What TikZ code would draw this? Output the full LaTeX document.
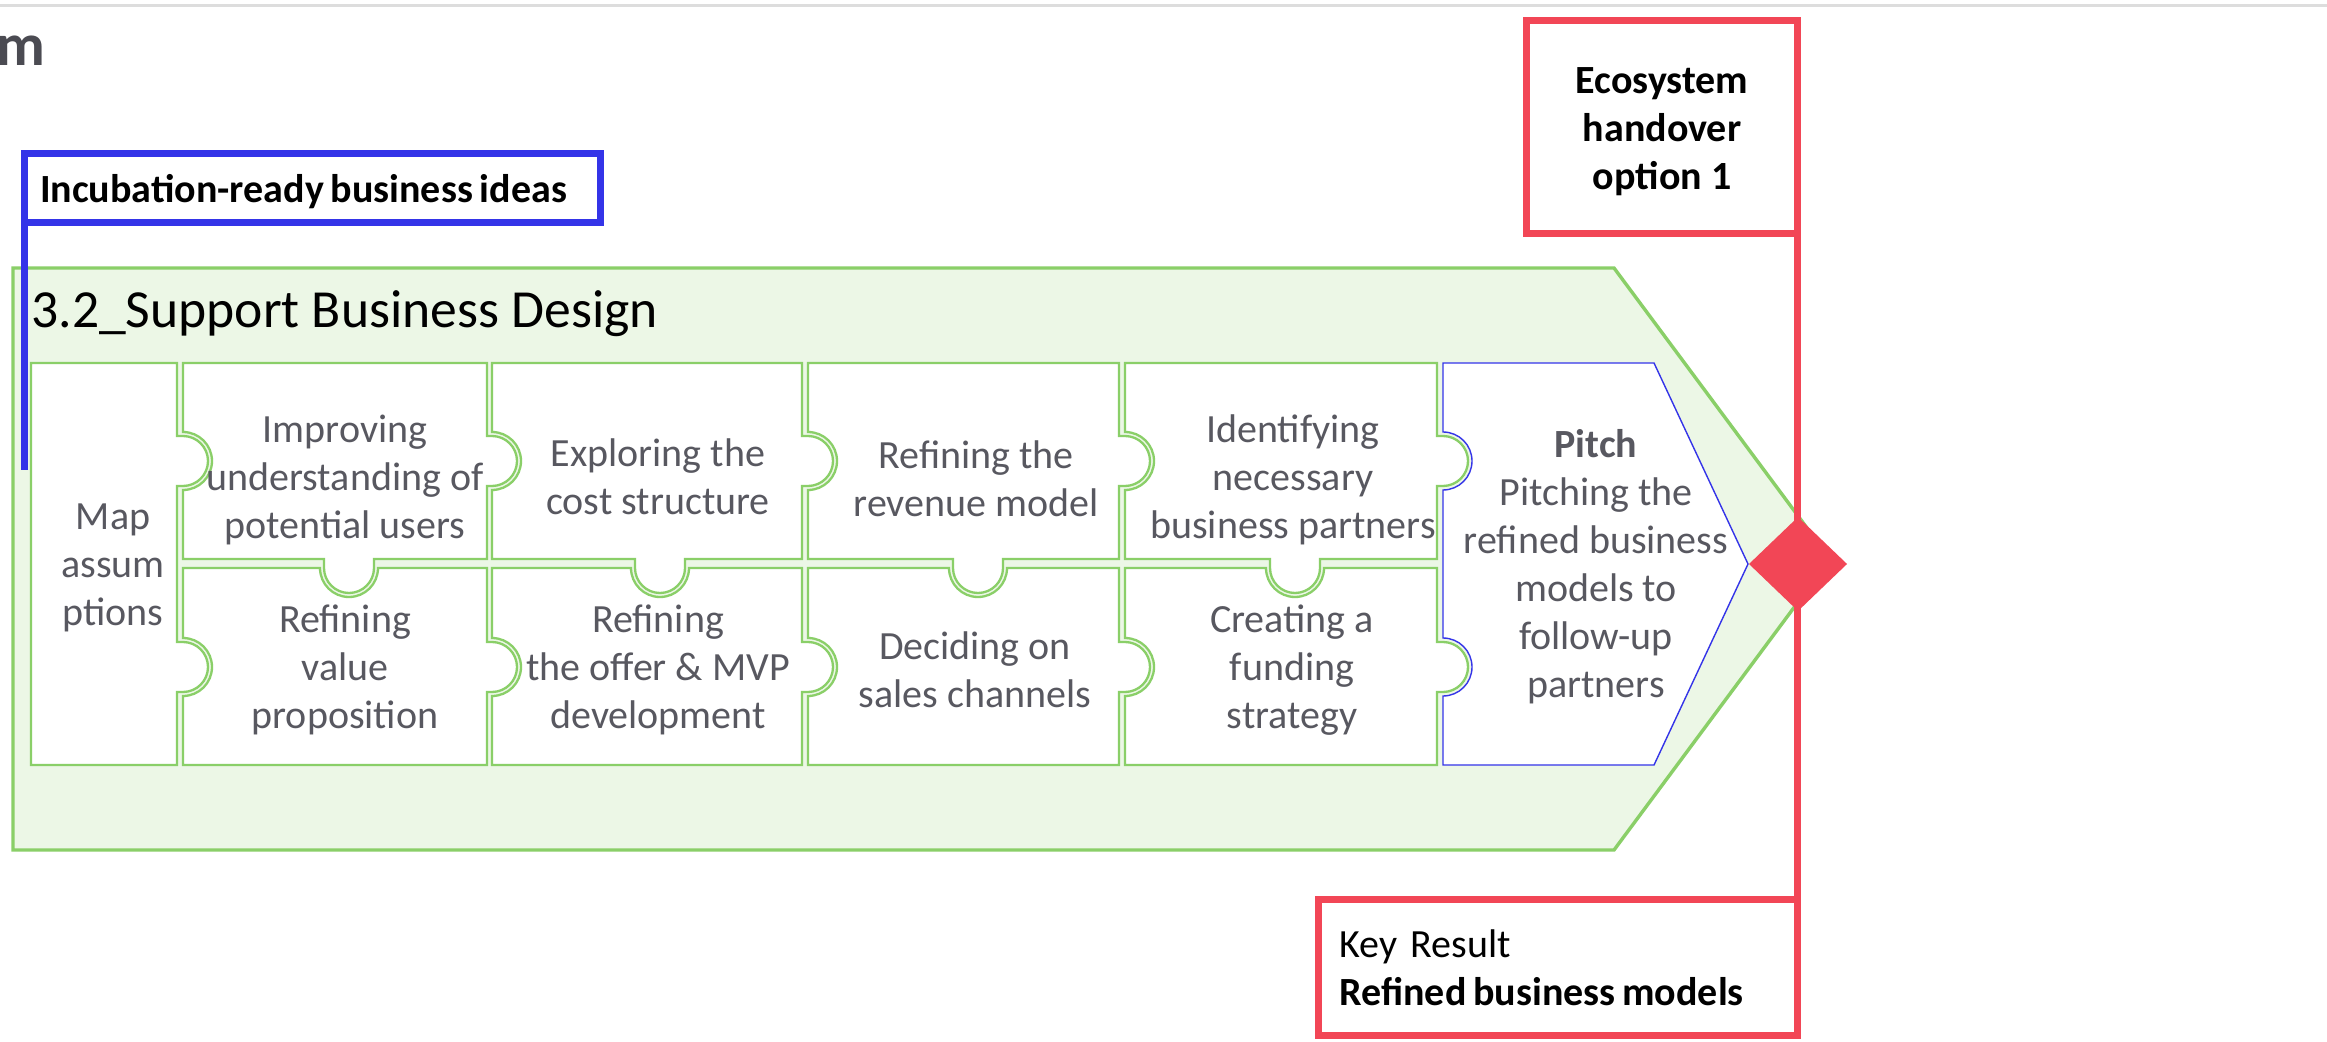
\documentclass[tikz,border=0pt]{standalone}
\usepackage{fontspec}
\setmainfont{Carlito}
\usetikzlibrary{shapes.geometric}

\definecolor{pgreen}{RGB}{138,207,104}
\definecolor{pfill}{RGB}{236,247,230}
\definecolor{pblue}{RGB}{52,52,232}
\definecolor{pred}{RGB}{242,70,86}
\definecolor{ptext}{RGB}{88,88,96}
\definecolor{phdr}{RGB}{75,75,82}
\definecolor{pgrey}{RGB}{221,221,221}

\begin{document}
\begin{tikzpicture}[x=0.5pt,y=-0.5pt,
  piece/.style={draw=pgreen, line width=1.15pt, fill=white, line join=miter},
  pitchpiece/.style={draw=pblue, line width=0.7pt, fill=white},
  stage/.style={draw=pgreen, fill=pfill, line width=1.7pt},
  ptxt/.style={text=ptext, align=center, inner sep=0pt, font=\fontsize{20pt}{24pt}\selectfont},
  redbox/.style={draw=pred, line width=3.75pt, fill=white, inner sep=0pt, outer sep=0pt,
                 font=\fontsize{20pt}{24pt}\selectfont},
  bluebox/.style={draw=pblue, line width=3.75pt, fill=white, inner ysep=0pt, outer sep=0pt,
                 font=\fontsize{20pt}{24pt}\selectfont\bfseries},
  redline/.style={draw=pred, line width=3.75pt},
  blueline/.style={draw=pblue, line width=3.75pt},
  knobR/.style={start angle=90, end angle=-90, radius=12.5pt},
  sockR/.style={start angle=-90, end angle=90, radius=14.5pt},
  knobD/.style={start angle=0, end angle=-180, radius=12.5pt},
  sockD/.style={start angle=180, end angle=360, radius=14.5pt}]

\path[fill=white, use as bounding box] (0,0) rectangle (2327,1042);

% top rule and cut header
\draw[pgrey, line width=1.5pt] (0,5.5) -- (2327,5.5);
\node[anchor=base east, inner sep=0pt, text=phdr,
      font=\fontsize{30pt}{34pt}\selectfont\bfseries] (hdr) at (46,66) {m};

% stage arrow
\path[stage] (13,268) -- (1614,268) -- (1830,559) -- (1614,850) -- (13,850) -- cycle;
\node[anchor=base west, inner sep=0pt, font=\fontsize{26.8pt}{32pt}\selectfont] (title)
  at (31,328) {3.2\_Support Business Design};

% Map assumptions
\path[piece] (31,363) -- (177,363) -- (177,436) -- (183,436) arc[knobR] -- (177,486)
  -- (177,642) -- (183,642) arc[knobR] -- (177,692) -- (177,765) -- (31,765) -- cycle;

% column 1
\path[piece] (183,363) -- (487,363) -- (487,436) -- (492,436) arc[knobR] -- (487,486)
  -- (487,559) -- (374,559) -- (374,568) arc[knobD] -- (324,559) -- (183,559)
  -- (183,490) arc[sockR] -- cycle;
\path[piece] (183,568) -- (320,568) arc[sockD] -- (487,568) -- (487,642) -- (492,642)
  arc[knobR] -- (487,692) -- (487,765) -- (183,765) -- (183,696) arc[sockR] -- cycle;

% column 2
\path[piece] (492,363) -- (802,363) -- (802,436) -- (808,436) arc[knobR] -- (802,486)
  -- (802,559) -- (685,559) -- (685,568) arc[knobD] -- (635,559) -- (492,559)
  -- (492,490) arc[sockR] -- cycle;
\path[piece] (492,568) -- (631,568) arc[sockD] -- (802,568) -- (802,642) -- (808,642)
  arc[knobR] -- (802,692) -- (802,765) -- (492,765) -- (492,696) arc[sockR] -- cycle;

% column 3
\path[piece] (808,363) -- (1119,363) -- (1119,436) -- (1125,436) arc[knobR] -- (1119,486)
  -- (1119,559) -- (1003,559) -- (1003,568) arc[knobD] -- (953,559) -- (808,559)
  -- (808,490) arc[sockR] -- cycle;
\path[piece] (808,568) -- (949,568) arc[sockD] -- (1119,568) -- (1119,642) -- (1125,642)
  arc[knobR] -- (1119,692) -- (1119,765) -- (808,765) -- (808,696) arc[sockR] -- cycle;

% column 4
\path[piece] (1125,363) -- (1437,363) -- (1437,436) -- (1443,436) arc[knobR] -- (1437,486)
  -- (1437,559) -- (1320,559) -- (1320,568) arc[knobD] -- (1270,559) -- (1125,559)
  -- (1125,490) arc[sockR] -- cycle;
\path[piece] (1125,568) -- (1266,568) arc[sockD] -- (1437,568) -- (1437,642) -- (1443,642)
  arc[knobR] -- (1437,692) -- (1437,765) -- (1125,765) -- (1125,696) arc[sockR] -- cycle;

% pitch
\path[pitchpiece] (1443,363) -- (1654,363) -- (1748,564) -- (1654,765) -- (1443,765)
  -- (1443,696) arc[sockR] -- (1443,490) arc[sockR] -- cycle;

% piece texts
\node[ptxt] (t0)  at (113,568)  {Map\\assum\\ptions};
\node[ptxt] (t1a) at (345,480)  {Improving\\understanding of\\potential users};
\node[ptxt] (t2a) at (658,477)  {Exploring the\\cost structure};
\node[ptxt] (t3a) at (976,479)  {Refining the\\revenue model};
\node[ptxt] (t4a) at (1293,480) {Identifying\\necessary\\business partners};
\node[ptxt] (t1b) at (345,670)  {Refining\\value\\proposition};
\node[ptxt] (t2b) at (658,670)  {Refining\\the offer \& MVP\\development};
\node[ptxt] (t3b) at (975,670)  {Deciding on\\sales channels};
\node[ptxt] (t4b) at (1292,670) {Creating a\\funding\\strategy};
\node[ptxt] (t5)  at (1596,567) {\textbf{Pitch}\\Pitching the\\refined business\\models to\\follow-up\\partners};

% handover boxes and line
\node[redbox, minimum width=135.5pt, minimum height=106.5pt, align=center,
      font=\fontsize{20pt}{24pt}\selectfont\bfseries] (eco) at (1662,127)
  {\rule{0pt}{17.7pt}Ecosystem\\handover\\option 1};
\node[redbox, minimum width=239.5pt, minimum height=68pt, text width=218.5pt,
      inner xsep=10.5pt, align=left] (key) at (1558,967.5)
  {Key Result\\{\bfseries\spaceskip=0.17em\relax Refined business models}};
\draw[redline] (eco.south east) -- (key.north east);
\node[diamond, fill=pred, inner sep=0pt, outer sep=0pt, minimum width=49pt,
      minimum height=47pt] (dia) at (1798,564) {};

% input box and line
\node[bluebox, minimum width=288pt, minimum height=34.5pt, text width=272.5pt,
      inner xsep=7.75pt, align=left, text depth=0pt] (inc) at (312.5,188)
  {\spaceskip=0.17em\relax Incubation-ready business ideas};
\coordinate (incend) at (24.5,470);
\draw[blueline] (inc.south west) -- (incend);

\end{tikzpicture}
\end{document}
